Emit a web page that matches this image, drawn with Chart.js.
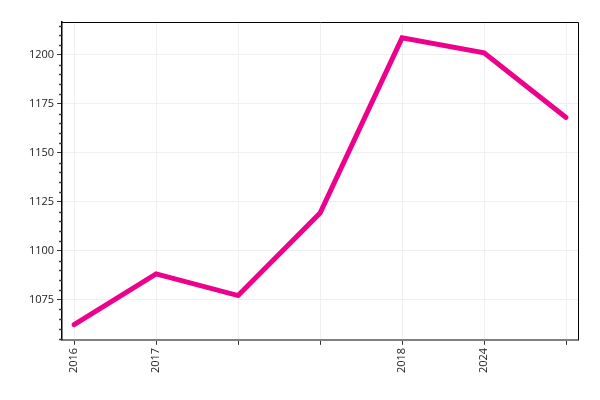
<!DOCTYPE html>
<html>
<head>
<meta charset="utf-8">
<script src="https://cdn.jsdelivr.net/npm/chart.js@4/dist/chart.umd.min.js"></script>
<style>
  html, body { margin: 0; padding: 0; background: #fff; }
  #wrap { width: 600px; height: 400px; }
</style>
</head>
<body>
<div id="wrap"><canvas id="chart"></canvas></div>
<script>
// datos
const categories = ['2016', '2017', '', '', '2018', '2024', ''];
const values = [1062.3, 1088.2, 1077.1, 1119.3, 1208.7, 1201.1, 1168.0];
const yTicks = [1075, 1100, 1125, 1150, 1175, 1200];
const yMin = 1054.5, yMax = 1216.8;

// marco negro arriba/derecha y ticks menores del eje y
const framePlugin = {
    id: 'frame',
    afterDraw(chart) {
        const { ctx, chartArea: a, scales } = chart;
        ctx.save();
        ctx.strokeStyle = '#000';
        ctx.lineWidth = 1;
        ctx.beginPath();
        ctx.moveTo(a.left, a.top + 0.5);
        ctx.lineTo(a.right + 0.5, a.top + 0.5);
        ctx.lineTo(a.right + 0.5, a.bottom);
        ctx.stroke();
        // ticks menores cada 5
        const y = scales.y;
        ctx.strokeStyle = '#333';
        ctx.lineWidth = 1.5;
        for (let v = Math.ceil(yMin / 5) * 5; v <= yMax; v += 5) {
            if (v % 25 === 0) continue;
            const py = Math.round(y.getPixelForValue(v)) + 0.5;
            ctx.beginPath();
            ctx.moveTo(a.left - 3, py);
            ctx.lineTo(a.left, py);
            ctx.stroke();
        }
        ctx.restore();
    }
};

document.addEventListener('DOMContentLoaded', () => {
    const ctx = document.getElementById('chart').getContext('2d');
    new Chart(ctx, {
        type: 'line',
        data: {
            datasets: [{
                data: values.map((v, i) => ({ x: i, y: v })),
                borderColor: '#ec008c',
                borderWidth: 5,
                borderCapStyle: 'round',
                borderJoinStyle: 'miter',
                pointRadius: 0,
                fill: false,
                tension: 0
            }]
        },
        options: {
            responsive: true,
            maintainAspectRatio: false,
            animation: false,
            layout: { padding: { top: 22, right: 22, left: 26, bottom: 24 } },
            plugins: { legend: { display: false }, tooltip: { enabled: false } },
            scales: {
                x: {
                    type: 'linear',
                    min: -0.146,
                    max: 6.146,
                    afterBuildTicks: s => { s.ticks = categories.map((_, i) => ({ value: i })); },
                    ticks: {
                        callback: (v) => categories[v] ?? '',
                        minRotation: 90,
                        maxRotation: 90,
                        color: '#222',
                        padding: 3,
                        font: { family: 'Open Sans', size: 11 }
                    },
                    grid: { color: '#efefef', tickColor: '#333', tickLength: 5, lineWidth: 1 },
                    border: { color: '#808080', width: 2 }
                },
                y: {
                    min: yMin,
                    max: yMax,
                    afterBuildTicks: s => { s.ticks = yTicks.map(v => ({ value: v })); },
                    ticks: {
                        callback: v => String(v),
                        color: '#222',
                        padding: 3,
                        font: { family: 'Open Sans', size: 11 }
                    },
                    grid: { color: '#efefef', tickColor: '#333', tickLength: 5, lineWidth: 1 },
                    border: { color: '#000', width: 1.5 }
                }
            }
        },
        plugins: [framePlugin]
    });
});
</script>
</body>
</html>
